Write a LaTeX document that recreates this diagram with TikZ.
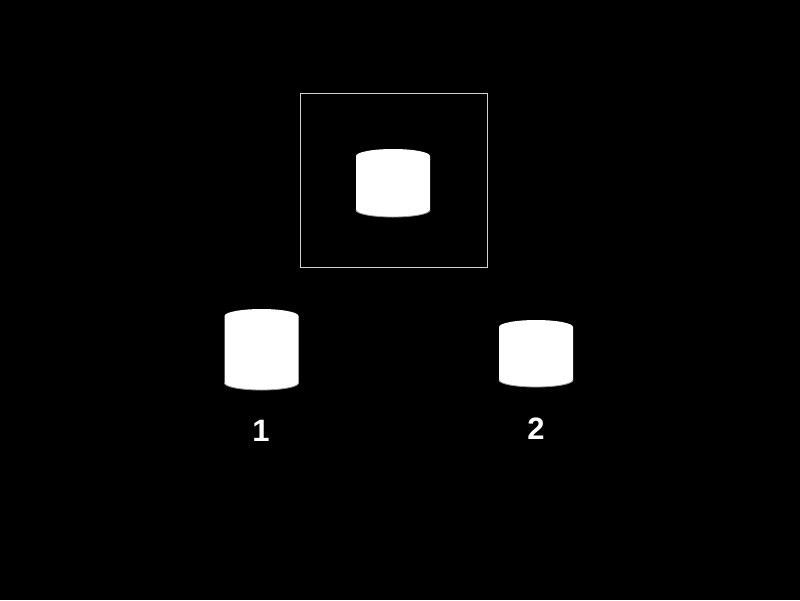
\documentclass[tikz,border=0pt]{standalone}
\usepackage{fontspec}
\setmainfont{Liberation Sans}
\usepackage{tikz}
\def\drum(#1,#2)(#3){\fill[white] (#1-37, #2) -- (#1-37, #2+#3) arc (180:0:37 and 7) -- (#1+37, #2) arc (0:-180:37 and 7) -- cycle;
	\draw[line width=0.6pt, color=black!40] (#1-37, #2+#3) arc (180:0:37 and 7);}

\begin{document}
\begin{tikzpicture}[x=0.025cm, y=-0.025cm]
			%%%%% START %%%%%
			
			\fill[black] (0, 0) rectangle (800, 600);
			\useasboundingbox (0, 0) rectangle (800, 600);
			
			\draw[line width=0.7pt, color=black!18] (300.5, 93.5) rectangle (487, 267);
			\drum(393, 156)(54)
			
			\drum(261.5, 316)(67)
			\node[color=white, font=\bfseries\fontsize{22}{26}\selectfont] (one) at (261, 431) {1};
			
			\drum(536, 327)(53)
			\node[color=white, font=\bfseries\fontsize{22}{26}\selectfont] (two) at (536, 429) {2};
			
			%%%%% END %%%%%
		\end{tikzpicture}
\end{document}
